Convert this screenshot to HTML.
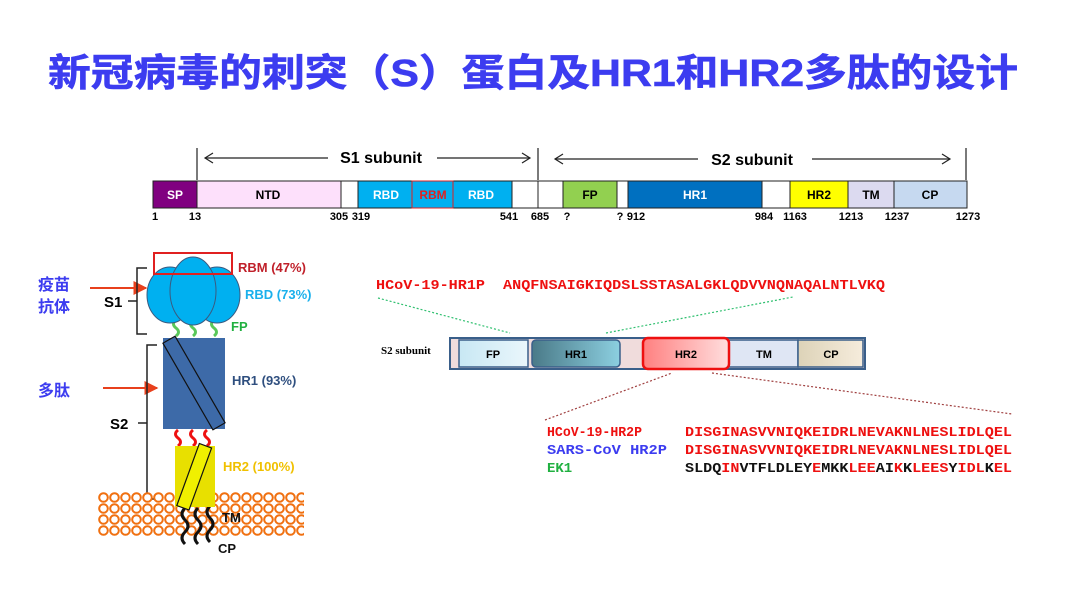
<!DOCTYPE html>
<html><head><meta charset="utf-8"><style>
html,body{margin:0;padding:0;background:#fff;width:1080px;height:608px;overflow:hidden}
svg text{font-family:"Liberation Sans","Noto Sans CJK SC",sans-serif}
.m{font-family:"Liberation Mono","DejaVu Sans Mono",monospace!important;font-size:14px;font-weight:bold}
</style></head><body>
<svg width="1080" height="608" viewBox="0 0 1080 608" xmlns="http://www.w3.org/2000/svg">
<defs>
<pattern id="mem" x="98" y="492" width="11" height="11" patternUnits="userSpaceOnUse">
<circle cx="5.5" cy="5.5" r="4.3" fill="#fff" stroke="#f07010" stroke-width="2"/>
</pattern>
<linearGradient id="gfp" x1="0" x2="1"><stop offset="0" stop-color="#c8e8f4"/><stop offset="1" stop-color="#eaf6fb"/></linearGradient>
<linearGradient id="ghr1" x1="0" x2="1"><stop offset="0" stop-color="#4a7a88"/><stop offset="1" stop-color="#8ccfe0"/></linearGradient>
<linearGradient id="ghr2" x1="0" x2="1"><stop offset="0" stop-color="#ff8080"/><stop offset="1" stop-color="#ffdede"/></linearGradient>
<linearGradient id="gcp" x1="0" x2="1"><stop offset="0" stop-color="#ddd3b8"/><stop offset="1" stop-color="#f6ecdc"/></linearGradient>
<marker id="ar" viewBox="0 0 10 10" refX="9" refY="5" markerWidth="7" markerHeight="7" orient="auto"><path d="M0,0 L10,5 L0,10 z" fill="#e8401c"/></marker>
</defs>

<text x="533" y="86" font-size="38" font-weight="bold" fill="#3c3cf0" stroke="#3c3cf0" stroke-width="0.6" text-anchor="middle" textLength="970" lengthAdjust="spacingAndGlyphs">新冠病毒的刺突（S）蛋白及HR1和HR2多肽的设计</text>

<g stroke="#222" stroke-width="1.2">
<line x1="197" y1="148" x2="197" y2="180"/><line x1="538" y1="148" x2="538" y2="180"/><line x1="966" y1="148" x2="966" y2="180"/>
<line x1="205" y1="158" x2="328" y2="158"/><line x1="437" y1="158" x2="530" y2="158"/>
<line x1="555" y1="159" x2="698" y2="159"/><line x1="812" y1="159" x2="950" y2="159"/>
<polyline points="213,153 205,158 213,163" fill="none"/><polyline points="522,153 530,158 522,163" fill="none"/>
<polyline points="563,154 555,159 563,164" fill="none"/><polyline points="942,154 950,159 942,164" fill="none"/>
</g>
<text x="381" y="163" font-size="16" font-weight="bold" text-anchor="middle">S1 subunit</text>
<text x="752" y="165" font-size="16" font-weight="bold" text-anchor="middle">S2 subunit</text>
<g stroke="#222" stroke-width="1">
<rect x="153" y="181" width="44" height="27" fill="#800080"/>
<rect x="197" y="181" width="144" height="27" fill="#fde0fb"/>
<rect x="341" y="181" width="17" height="27" fill="#fff"/>
<rect x="358" y="181" width="154" height="27" fill="#00b0f0"/>
<rect x="412" y="181" width="41" height="27" fill="#00b0f0" stroke="#e02020"/>
<rect x="512" y="181" width="26" height="27" fill="#fff"/>
<rect x="538" y="181" width="25" height="27" fill="#fff"/>
<rect x="563" y="181" width="54" height="27" fill="#92d050"/>
<rect x="617" y="181" width="11" height="27" fill="#fff"/>
<rect x="628" y="181" width="134" height="27" fill="#0070c0"/>
<rect x="762" y="181" width="28" height="27" fill="#fff"/>
<rect x="790" y="181" width="58" height="27" fill="#ffff00"/>
<rect x="848" y="181" width="46" height="27" fill="#dcdaf0"/>
<rect x="894" y="181" width="73" height="27" fill="#c6d9f0"/>
</g>
<g font-size="12" font-weight="bold" text-anchor="middle">
<text x="175" y="199" fill="#fff">SP</text><text x="268" y="199">NTD</text>
<text x="386" y="199" fill="#fff">RBD</text><text x="433" y="199" fill="#e02020">RBM</text><text x="481" y="199" fill="#fff">RBD</text>
<text x="590" y="199">FP</text><text x="695" y="199" fill="#fff">HR1</text><text x="819" y="199">HR2</text><text x="871" y="199">TM</text><text x="930" y="199">CP</text>
</g>
<g font-size="11" font-weight="bold" text-anchor="middle">
<text x="155" y="220">1</text><text x="195" y="220">13</text><text x="339" y="220">305</text><text x="361" y="220">319</text>
<text x="509" y="220">541</text><text x="540" y="220">685</text><text x="567" y="220">?</text><text x="620" y="220">?</text>
<text x="636" y="220">912</text><text x="764" y="220">984</text><text x="795" y="220">1163</text><text x="851" y="220">1213</text>
<text x="897" y="220">1237</text><text x="968" y="220">1273</text>
</g>

<text x="38" y="290" font-size="16" font-weight="bold" fill="#3c3cf0">疫苗</text>
<text x="38" y="312" font-size="16" font-weight="bold" fill="#3c3cf0">抗体</text>
<text x="38" y="396" font-size="16" font-weight="bold" fill="#3c3cf0">多肽</text>
<line x1="90" y1="288" x2="146" y2="288" stroke="#e8401c" stroke-width="2" marker-end="url(#ar)"/>
<line x1="103" y1="388" x2="157" y2="388" stroke="#e8401c" stroke-width="2" marker-end="url(#ar)"/>
<g stroke="#222" stroke-width="1.5" fill="none">
<polyline points="147,268 137,268 137,334 147,334"/><line x1="128" y1="301" x2="137" y2="301"/>
<polyline points="157,345 147,345 147,499 157,499"/><line x1="138" y1="423" x2="147" y2="423"/>
</g>
<text x="104" y="307" font-size="15" font-weight="bold">S1</text>
<text x="110" y="429" font-size="15" font-weight="bold">S2</text>

<rect x="98" y="492" width="206" height="44" fill="url(#mem)"/>

<g fill="none" stroke-width="3">
<path d="M176,320 q-5,4 0,8 q5,4 0,8" stroke="#5ac85a"/><path d="M193,320 q-5,4 0,8 q5,4 0,8" stroke="#5ac85a"/><path d="M214,320 q-5,4 0,8 q5,4 0,8" stroke="#5ac85a"/>
<path d="M178,430 q-5,4 0,8 q5,4 0,8" stroke="#ee1010"/><path d="M193,430 q-5,4 0,8 q5,4 0,8" stroke="#ee1010"/><path d="M207,430 q-5,4 0,8 q5,4 0,8" stroke="#ee1010"/>
<path d="M185,508 q-6,6 0,12 q6,6 0,12 q-6,6 0,12" stroke="#111"/><path d="M198,508 q-6,6 0,12 q6,6 0,12 q-6,6 0,12" stroke="#111"/><path d="M210,506 q-6,6 0,12 q6,6 0,12 q-6,6 0,12" stroke="#111"/>
</g>
<g stroke="#3a5a80" stroke-width="1" fill="#00b0f0">
<ellipse cx="170" cy="295" rx="23" ry="28"/><ellipse cx="217" cy="295" rx="23" ry="28"/><ellipse cx="193" cy="291" rx="23" ry="34"/>
</g>
<rect x="154" y="253" width="78" height="21" fill="none" stroke="#e02020" stroke-width="2"/>
<rect x="163" y="338" width="62" height="91" fill="#3d6aa8"/>
<g transform="rotate(-30 194 383)"><rect x="187" y="333" width="14" height="100" fill="#3d6aa8" stroke="#111" stroke-width="1.2"/></g>
<rect x="175" y="446" width="40" height="61" fill="#e8e000"/>
<g transform="rotate(20 195 476)"><rect x="188" y="444" width="13" height="66" fill="#f0f000" stroke="#111" stroke-width="1.2"/></g>
<g font-size="13" font-weight="bold">
<text x="238" y="272" fill="#c0202a">RBM (47%)</text>
<text x="245" y="299" fill="#1ab0ec">RBD (73%)</text>
<text x="231" y="331" fill="#20b040">FP</text>
<text x="232" y="385" fill="#2f4f7f">HR1 (93%)</text>
<text x="223" y="471" fill="#f0c000">HR2 (100%)</text>
<text x="222" y="522" fill="#111">TM</text>
<text x="218" y="553" fill="#111">CP</text>
</g>

<text class="m" x="376" y="289" fill="#ee1010" textLength="109" lengthAdjust="spacingAndGlyphs">HCoV-19-HR1P</text>
<text class="m" x="503" y="289" fill="#ee1010" textLength="382" lengthAdjust="spacingAndGlyphs">ANQFNSAIGKIQDSLSSTASALGKLQDVVNQNAQALNTLVKQ</text>
<g stroke-dasharray="2,2" stroke-width="1.2" fill="none">
<line x1="378" y1="298" x2="510" y2="333" stroke="#30c070"/>
<line x1="606" y1="333" x2="793" y2="297" stroke="#30c070"/>
<line x1="545" y1="420" x2="672" y2="373" stroke="#a04040"/>
<line x1="712" y1="373" x2="1012" y2="414" stroke="#a04040"/>
</g>
<text x="381" y="354" font-size="11" font-weight="bold" style="font-family:'Liberation Serif',serif">S2 subunit</text>
<rect x="450" y="338" width="415" height="31" fill="#f0dcdc" stroke="#3a5f8a" stroke-width="2"/>
<rect x="459" y="340" width="69" height="27" fill="url(#gfp)" stroke="#3a5f8a" stroke-width="1.5"/>
<rect x="532" y="340" width="88" height="27" rx="4" fill="url(#ghr1)" stroke="#3a5f8a" stroke-width="1.5"/>
<rect x="729" y="340" width="69" height="27" fill="#dfe6f4" stroke="#3a5f8a" stroke-width="1.5"/>
<rect x="798" y="340" width="65" height="27" fill="url(#gcp)" stroke="#3a5f8a" stroke-width="1.5"/>
<rect x="643" y="338" width="86" height="31" rx="5" fill="url(#ghr2)" stroke="#ee1010" stroke-width="2.5"/>
<g font-size="11" font-weight="bold" text-anchor="middle">
<text x="493" y="358">FP</text><text x="576" y="358">HR1</text><text x="686" y="358">HR2</text><text x="764" y="358">TM</text><text x="831" y="358">CP</text>
</g>
<text class="m" x="547" y="436" fill="#ee1010" textLength="95" lengthAdjust="spacingAndGlyphs">HCoV-19-HR2P</text>
<text class="m" x="547" y="454" fill="#3c3cf0" textLength="120" lengthAdjust="spacingAndGlyphs">SARS-CoV HR2P</text>
<text class="m" x="547" y="472" fill="#20b040">EK1</text>
<text class="m" x="685" y="436" fill="#ee1010" textLength="327" lengthAdjust="spacingAndGlyphs">DISGINASVVNIQKEIDRLNEVAKNLNESLIDLQEL</text>
<text class="m" x="685" y="454" fill="#ee1010" textLength="327" lengthAdjust="spacingAndGlyphs">DISGINASVVNIQKEIDRLNEVAKNLNESLIDLQEL</text>
<text class="m" x="685" y="472" fill="#111" textLength="327" lengthAdjust="spacingAndGlyphs">SLDQ<tspan fill="#ee1010">IN</tspan>VTFLDLEY<tspan fill="#ee1010">E</tspan>MKK<tspan fill="#ee1010">LEE</tspan>AI<tspan fill="#ee1010">K</tspan>K<tspan fill="#ee1010">LEES</tspan>Y<tspan fill="#ee1010">IDL</tspan>K<tspan fill="#ee1010">EL</tspan></text>
</svg>
</body></html>
